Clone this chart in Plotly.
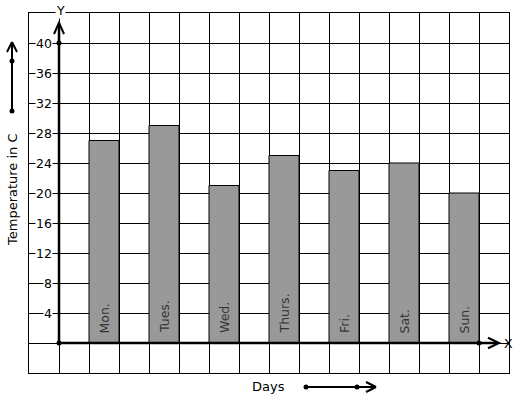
import plotly.graph_objects as go

days = ["Mon.", "Tues.", "Wed.", "Thurs.", "Fri.", "Sat.", "Sun."]
temps = [27, 29, 21, 25, 23, 24, 20]
bar_pos = [1.5, 3.5, 5.5, 7.5, 9.5, 11.5, 13.5]
y_ticks = [4, 8, 12, 16, 20, 24, 28, 32, 36, 40]

W, H = 517, 399
L, R, T, B = 29, 8, 13, 26
PW, PH = W - L - R, H - T - B
FONT = "DejaVu Sans"


def px(x):
    return (x - L) / PW


def py(y):
    return (H - B - y) / PH


fig = go.Figure()
fig.add_trace(go.Bar(
    x=bar_pos, y=temps, width=1,
    marker=dict(color="#999999", line=dict(color="black", width=1)),
    hoverinfo="skip",
))

ann = []
for xv, d in zip(bar_pos, days):
    ann.append(dict(x=xv, y=1.0, text=d, textangle=-90, showarrow=False,
                    xanchor="center", yanchor="bottom",
                    font=dict(family=FONT, size=12.5, color="#333333")))
for t in y_ticks:
    ann.append(dict(x=-0.2, y=t, text=str(t), showarrow=False, xanchor="right",
                    yanchor="middle", bgcolor="white", borderpad=0,
                    font=dict(family=FONT, size=12.5, color="black")))


def ptext(x, y, text, size=12.5, angle=0, bg=None):
    d = dict(xref="paper", yref="paper", x=px(x), y=py(y), text=text,
             showarrow=False, xanchor="center", yanchor="middle", textangle=angle,
             borderpad=0, font=dict(family=FONT, size=size, color="black"))
    if bg:
        d["bgcolor"] = bg
    return d


ann.append(ptext(60, 10, "Y", bg="white"))
ann.append(ptext(508, 343, "X"))
ann.append(ptext(268, 386, "Days", size=13))
ann.append(ptext(12, 190, "Temperature in C", size=13, angle=-90))

shapes = []
lw = 2.5
# axes
shapes.append(dict(type="line", x0=0, y0=0, x1=0, y1=42.6, line=dict(color="black", width=lw)))
shapes.append(dict(type="path", path="M -0.167,41.2 L 0,42.7 L 0.167,41.2",
                   line=dict(color="black", width=2)))
shapes.append(dict(type="line", x0=0, y0=0, x1=14.62, y1=0, line=dict(color="black", width=lw)))
shapes.append(dict(type="path", path="M 14.3,0.7 L 14.67,0 L 14.3,-0.7",
                   line=dict(color="black", width=2)))
for (cx, cy) in [(0, 40), (0, 0), (14, 0)]:
    shapes.append(dict(type="circle", x0=cx - 2.5 / 30, x1=cx + 2.5 / 30,
                       y0=cy - 2.5 / 7.5, y1=cy + 2.5 / 7.5,
                       fillcolor="black", line=dict(color="black", width=0)))


def pline(x0, y0, x1, y1, w=2):
    return dict(type="line", xref="paper", yref="paper", x0=px(x0), y0=py(y0),
                x1=px(x1), y1=py(y1), line=dict(color="black", width=w))


def pdot(x, y, r=2.5):
    return dict(type="circle", xref="paper", yref="paper",
                x0=px(x - r), x1=px(x + r), y0=py(y + r), y1=py(y - r),
                fillcolor="black", line=dict(color="black", width=0))


shapes += [pline(12, 111, 12, 43), pline(7, 52, 12, 42), pline(17, 52, 12, 42),
           pdot(12, 61), pdot(12, 111)]
shapes += [pline(306, 387, 375, 387), pline(366, 382, 376, 387), pline(366, 392, 376, 387),
           pdot(306, 387), pdot(357, 387)]

fig.update_layout(
    width=W, height=H, autosize=False,
    margin=dict(l=L, r=R, t=T, b=B, pad=0),
    paper_bgcolor="white", plot_bgcolor="white",
    showlegend=False,
    annotations=ann, shapes=shapes,
    xaxis=dict(range=[-1, 15], dtick=1, tick0=0, showgrid=True, gridcolor="black",
               gridwidth=1, zeroline=False, showticklabels=False, ticks="",
               showline=True, linecolor="black", linewidth=1, mirror=True, fixedrange=True),
    yaxis=dict(range=[-4, 44], dtick=4, tick0=0, showgrid=True, gridcolor="black",
               gridwidth=1, zeroline=False, showticklabels=False, ticks="",
               showline=True, linecolor="black", linewidth=1, mirror=True, fixedrange=True),
)
fig.write_html("out.html")
